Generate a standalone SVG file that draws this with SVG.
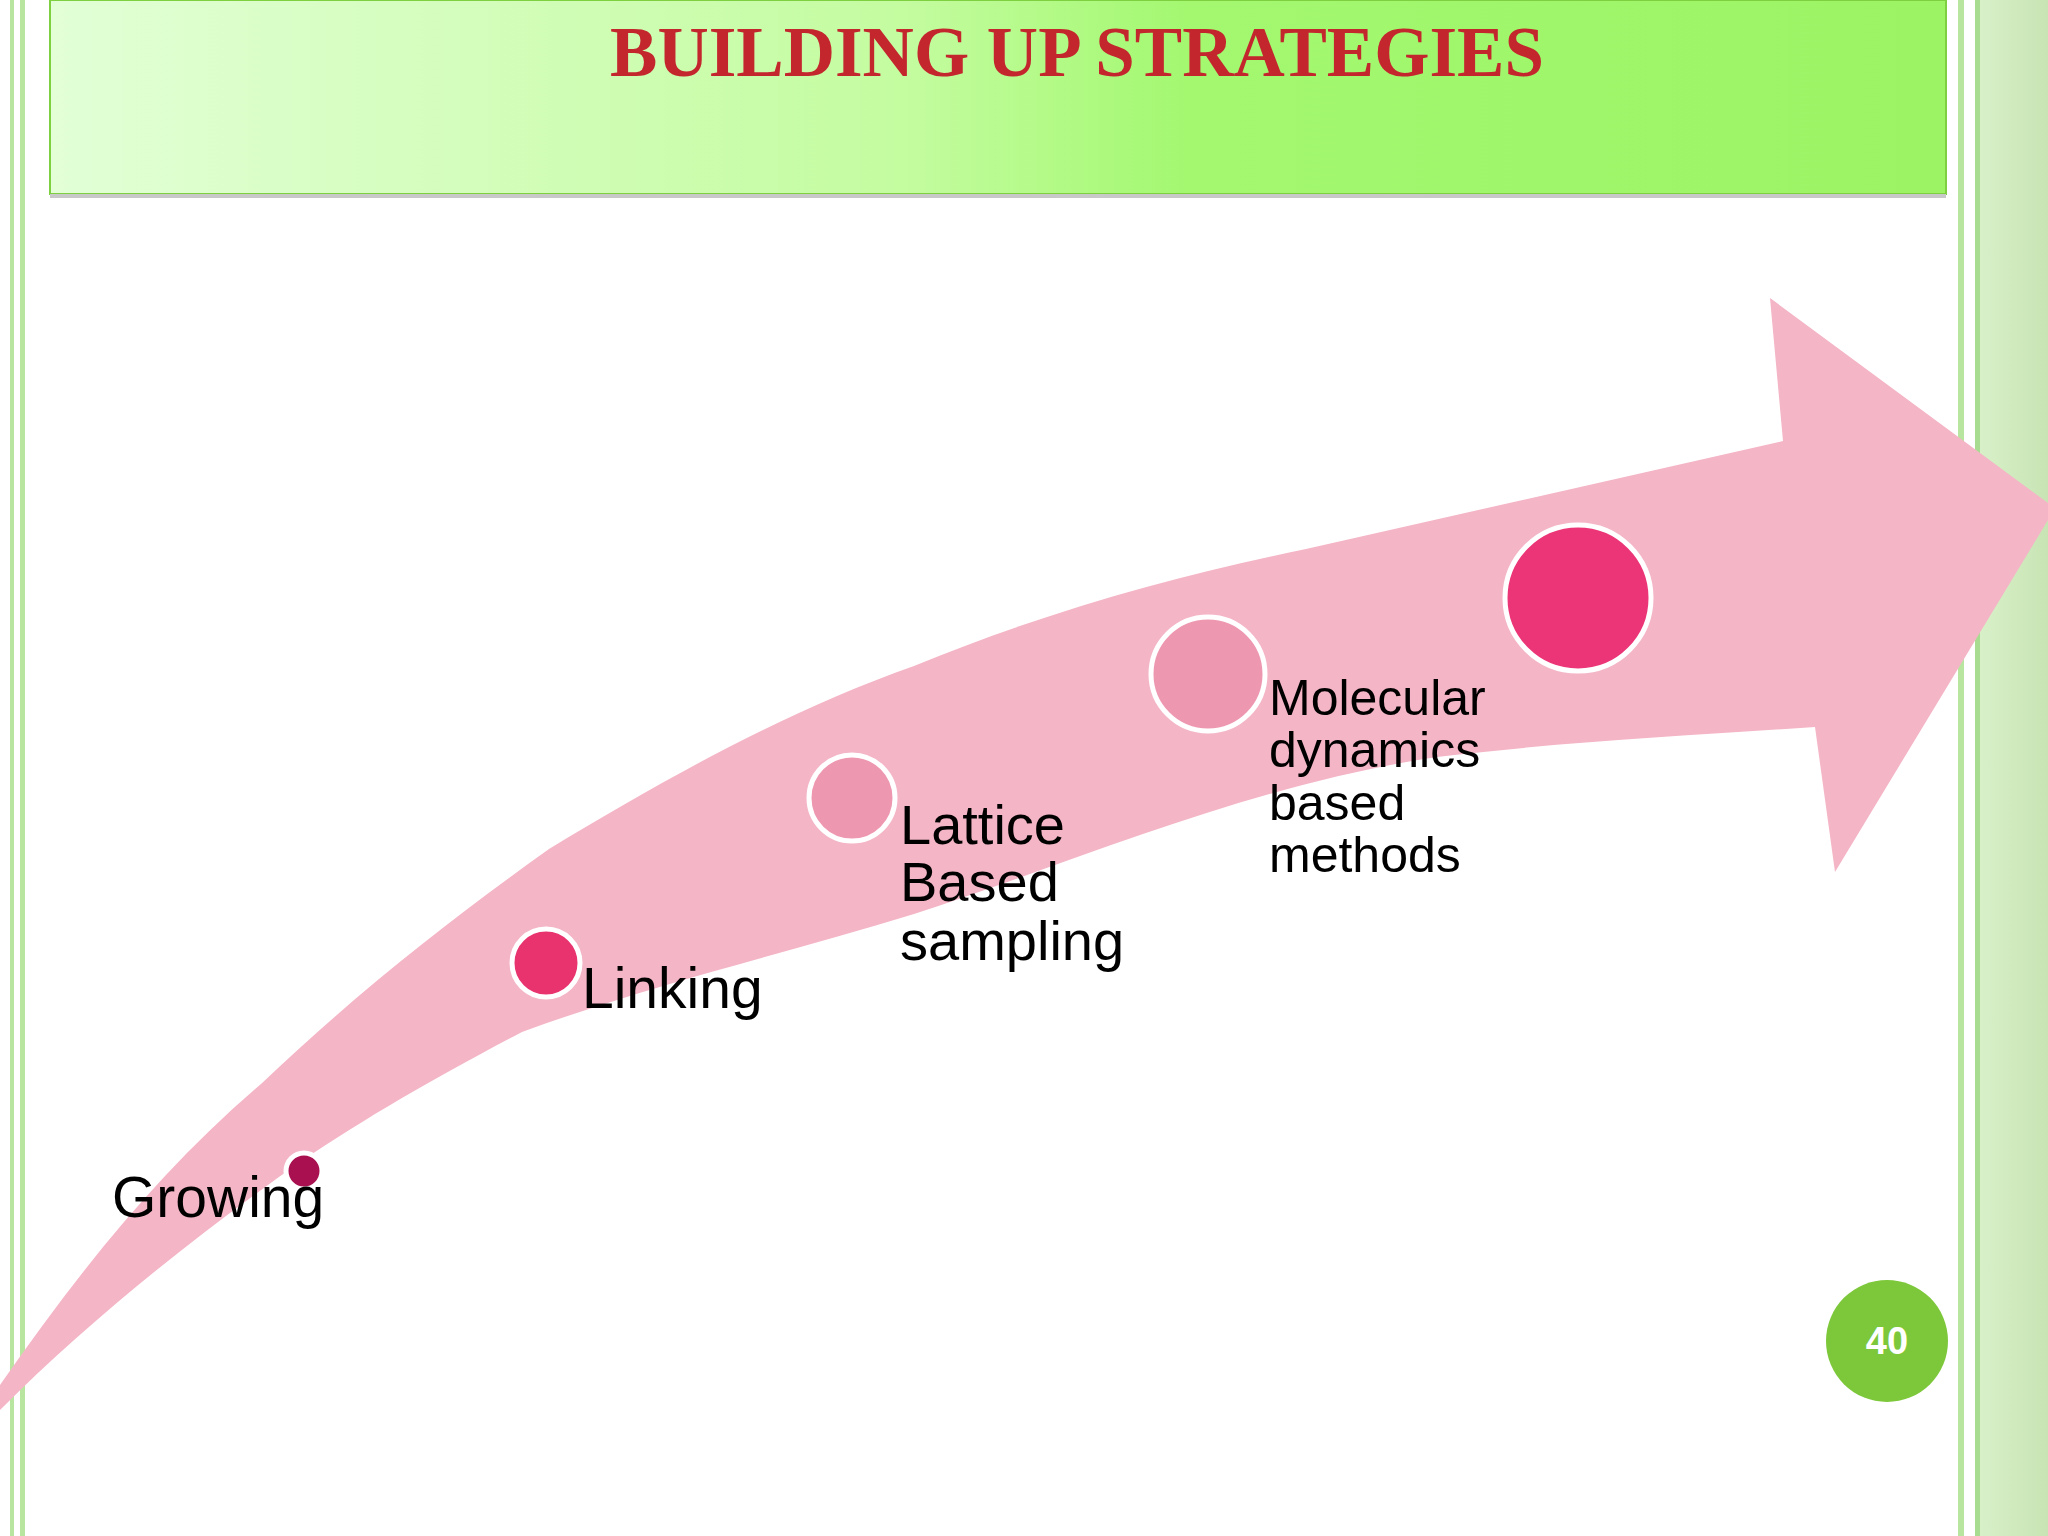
<svg xmlns="http://www.w3.org/2000/svg" width="2048" height="1536" viewBox="0 0 2048 1536">
<defs>
<linearGradient id="tg" x1="0" y1="0" x2="1" y2="0">
<stop offset="0" stop-color="#e2ffd6"/><stop offset="0.45" stop-color="#c4fca0"/><stop offset="0.6" stop-color="#a3f870"/><stop offset="1" stop-color="#9cf464"/>
</linearGradient>
<linearGradient id="rg" x1="0" y1="0" x2="1" y2="0">
<stop offset="0" stop-color="#d8f0c8"/><stop offset="1" stop-color="#c8e4b4"/>
</linearGradient>
<style>
.lbl{font-family:"Liberation Sans",Arial,sans-serif;fill:#000}
.dot{stroke:#fff;stroke-width:5}
</style>
</defs>
<rect width="2048" height="1536" fill="#fff"/>
<g id="frame">
<rect x="10" y="0" width="4" height="1536" fill="#b8e6a0"/>
<rect x="20" y="0" width="5" height="1536" fill="#b8e6a0"/>
<rect x="1958" y="0" width="6" height="1536" fill="#b8e6a0"/>
<rect x="1980" y="0" width="68" height="1536" fill="url(#rg)"/>
<rect x="1975" y="0" width="5" height="1536" fill="#a8dc90"/>
</g>
<g id="title">
<rect x="50" y="0" width="1896" height="194" fill="url(#tg)" stroke="#7fd040" stroke-width="2"/>
<rect x="50" y="194" width="1896" height="4" fill="#c8c8c8"/>
<text x="1077" y="76" text-anchor="middle" font-family="Liberation Serif,serif" font-weight="bold" font-size="71" fill="#c4262e">BUILDING UP STRATEGIES</text>
</g>
<g id="arrow">
<path d="M0 1410 L0 1385 C80 1270 160 1170 261 1084 C360 990 450 920 549 849 C680 770 790 710 914 666 C1050 610 1180 575 1306 549 L1783 441 L1770 298 L2048 503 L2048 520 L1835 872 L1815 727 C1700 735 1560 742 1437 757 C1250 785 1080 860 914 914 C780 955 650 985 522 1032 C440 1075 370 1115 300 1162 C190 1240 90 1320 0 1410 Z" fill="#f4b5c6"/>
</g>
<g id="n1"><circle class="dot" cx="304" cy="1171" r="18" fill="#a8104f" stroke-width="3"/><text class="lbl" x="112" y="1217" font-size="57">Growing</text></g>
<g id="n2"><circle class="dot" cx="546" cy="963" r="34" fill="#e8336f"/><text class="lbl" x="582" y="1008" font-size="57">Linking</text></g>
<g id="n3"><circle class="dot" cx="852" cy="798" r="43" fill="#ee97b0"/><text class="lbl" font-size="56"><tspan x="900" y="844">Lattice</tspan><tspan x="900" y="901">Based</tspan><tspan x="900" y="960">sampling</tspan></text></g>
<g id="n4"><circle class="dot" cx="1208" cy="674" r="57" fill="#ee97b0"/><text class="lbl" font-size="50"><tspan x="1269" y="715">Molecular</tspan><tspan x="1269" y="767">dynamics</tspan><tspan x="1269" y="820">based</tspan><tspan x="1269" y="872">methods</tspan></text></g>
<g id="n5"><circle class="dot" cx="1578" cy="598" r="73" fill="#ec3577"/></g>
<g id="connectors"></g>
<g id="page"><circle cx="1887" cy="1341" r="61" fill="#7dc83a"/><text x="1887" y="1354" text-anchor="middle" font-family="Liberation Sans,Arial,sans-serif" font-weight="bold" font-size="38" fill="#fff">40</text></g>
</svg>
